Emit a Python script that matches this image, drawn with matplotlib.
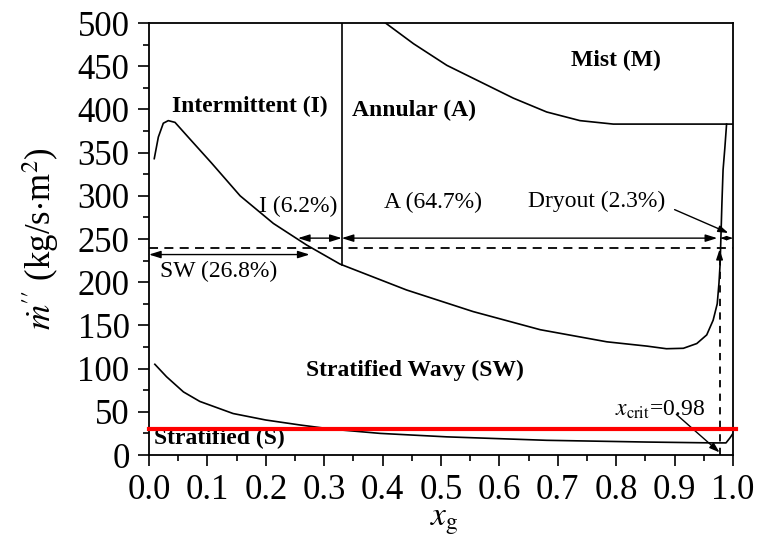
import matplotlib
matplotlib.use("Agg")
import matplotlib.pyplot as plt
from matplotlib.ticker import MultipleLocator

plt.rcParams['font.family'] = ['Liberation Serif', 'DejaVu Serif']
plt.rcParams['mathtext.fontset'] = 'stix'

# ---- data ----
upper_x = [0.009, 0.016, 0.0245, 0.033, 0.0445, 0.067, 0.107, 0.156, 0.213, 0.270,
           0.327, 0.441, 0.555, 0.670, 0.784, 0.853, 0.886, 0.915, 0.938, 0.955,
           0.966, 0.973, 0.976, 0.978, 0.979, 0.981, 0.983, 0.986, 0.989]
upper_y = [343, 368, 384, 387, 385, 368, 338, 300, 268, 243,
           221, 191, 166, 145, 131, 126, 123, 123.5, 129, 139,
           156, 175, 199, 222, 245, 291, 330, 355, 383]

mist_x = [0.405, 0.453, 0.510, 0.567, 0.624, 0.681, 0.738, 0.795, 0.850, 1.000]
mist_y = [500, 476, 451, 432, 413, 397, 387, 383, 383, 383]

lower_x = [0.010, 0.030, 0.059, 0.087, 0.144, 0.200, 0.259, 0.316, 0.396, 0.510,
           0.681, 0.852, 0.966, 0.988, 0.995, 1.000]
lower_y = [105, 90.6, 73, 62, 48, 40.5, 34.7, 29.7, 25, 21,
           17, 15, 14, 14, 20, 25]

ia_x = 0.33            # intermittent / annular boundary
ia_y = [220, 500]
g_dash = 240           # horizontal dashed mass flux
x_crit = 0.977
red_y = 30

arrow_y_top = 251
arrow_y_sw = 232
i_range = (0.255, 0.33)
a_range = (0.33, 0.973)
dry_range = (0.978, 1.0)
sw_range = (0.0, 0.275)

xticks = [0.0, 0.1, 0.2, 0.3, 0.4, 0.5, 0.6, 0.7, 0.8, 0.9, 1.0]
yticks = [0, 50, 100, 150, 200, 250, 300, 350, 400, 450, 500]

# ---- figure ----
fig = plt.figure(figsize=(7.6, 5.37), dpi=100)
ax = fig.add_axes([149/760, 1-455/537, (733-149)/760, (455-23)/537])

lw = 1.2
ax.plot(upper_x, upper_y, color='black', lw=lw)
ax.plot(mist_x, mist_y, color='black', lw=lw)
ax.plot(lower_x, lower_y, color='black', lw=lw)
ax.plot([ia_x, ia_x], ia_y, color='black', lw=lw)

ax.plot([0, 1.0], [g_dash, g_dash], color='black', lw=1.3, ls=(0, (5, 3.5)))
ax.plot([x_crit, x_crit], [0, g_dash - 8], color='black', lw=1.3, ls=(0, (4, 3.5)))
ax.annotate('', xy=(x_crit, g_dash - 2), xytext=(x_crit, g_dash - 14),
            arrowprops=dict(arrowstyle='-|>,head_length=0.6,head_width=0.2',
                            color='black', lw=1.0, shrinkA=0, shrinkB=0))

ax.plot([0, 1.005], [red_y, red_y], color='red', lw=3, clip_on=False, zorder=5)

astyle = dict(arrowstyle='<|-|>,head_length=0.7,head_width=0.22', color='black',
              lw=1.0, shrinkA=0, shrinkB=0)
for (x0, x1), yy in [(i_range, arrow_y_top), (a_range, arrow_y_top), (sw_range, arrow_y_sw)]:
    ax.annotate('', xy=(x0, yy), xytext=(x1, yy), arrowprops=astyle)
ax.annotate('', xy=(dry_range[0], arrow_y_top), xytext=(dry_range[1], arrow_y_top),
            arrowprops=dict(arrowstyle='<|-|>,head_length=0.35,head_width=0.12',
                            color='black', lw=0.8, shrinkA=0, shrinkB=0))

# region labels (bold)
bfs = 17
ax.text(0.173, 403, 'Intermittent (I)', ha='center', va='center', fontsize=bfs, fontweight='bold')
ax.text(0.454, 399, 'Annular (A)', ha='center', va='center', fontsize=bfs, fontweight='bold')
ax.text(0.80, 457, 'Mist (M)', ha='center', va='center', fontsize=bfs, fontweight='bold')
ax.text(0.456, 98, 'Stratified Wavy (SW)', ha='center', va='center', fontsize=bfs, fontweight='bold')
ax.text(0.12, 19, 'Stratified (S)', ha='center', va='center', fontsize=bfs, fontweight='bold')

# percentage labels
pfs = 17
ax.text(0.255, 288, 'I (6.2%)', ha='center', va='center', fontsize=pfs)
ax.text(0.486, 292, 'A (64.7%)', ha='center', va='center', fontsize=pfs)
ax.text(0.766, 293, 'Dryout (2.3%)', ha='center', va='center', fontsize=pfs)
ax.text(0.12, 212, 'SW (26.8%)', ha='center', va='center', fontsize=pfs)
ax.annotate('', xy=(0.992, 257), xytext=(0.90, 284),
            arrowprops=dict(arrowstyle='-|>,head_length=0.6,head_width=0.2',
                            color='black', lw=1.0, shrinkA=0, shrinkB=0))
ax.text(0.875, 52, r'$x_{\mathrm{crit}}$=0.98', ha='center', va='center', fontsize=pfs)
ax.annotate('', xy=(x_crit, 3), xytext=(0.903, 47),
            arrowprops=dict(arrowstyle='-|>,head_length=0.6,head_width=0.2',
                            color='black', lw=1.0, shrinkA=0, shrinkB=0))

# axes styling
ax.set_xlim(0, 1.0)
ax.set_ylim(0, 500)
ax.set_xticks(xticks)
ax.set_yticks(yticks)
ax.set_xticklabels([f'{t:.1f}' for t in xticks])
ax.set_yticklabels([str(t) for t in yticks])
ax.xaxis.set_minor_locator(MultipleLocator(0.05))
ax.yaxis.set_minor_locator(MultipleLocator(25))
ax.tick_params(which='both', direction='out', top=False, right=False, labelsize=25, width=1.2)
ax.tick_params(which='major', length=8, pad=6)
ax.tick_params(which='minor', length=4)
for s in ax.spines.values():
    s.set_linewidth(1.3)

ax.set_ylabel(r"$\dot{m}''$ (kg/s$\cdot$m$^{2}$)", fontsize=25)
ax.yaxis.set_label_coords(-0.15, 0.5)
ax.set_xlabel(r'$x_{\mathrm{g}}$', fontsize=24)
ax.xaxis.set_label_coords(0.505, -0.12)

fig.savefig('out.png', dpi=100)
